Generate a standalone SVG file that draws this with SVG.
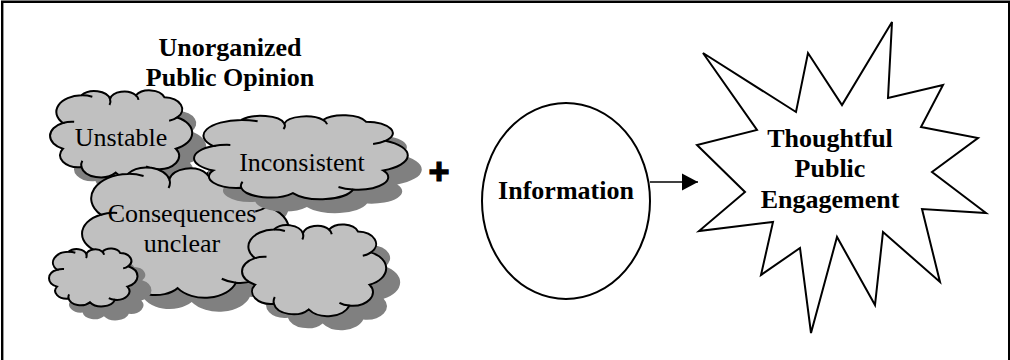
<svg xmlns="http://www.w3.org/2000/svg" xmlns:xlink="http://www.w3.org/1999/xlink" width="1010" height="360" viewBox="0 0 1010 360">
<style>
.cl{fill:#c0c0c0;stroke:#000;stroke-width:2}
.sh{fill:#808080;stroke:none}
.ci{fill:none;stroke:#000;stroke-width:2}
.t{font-family:"Liberation Serif","Times New Roman",serif;font-size:26px;fill:#000;text-anchor:middle}
.b{font-weight:bold}
</style>
<defs>
<path id="cloud" vector-effect="non-scaling-stroke" d="M9,38 A18,18 0 0 1 22,8 A11.2,11.2 0 0 1 42,12 A10.1,10.1 0 0 1 60,8 A11.1,11.1 0 0 1 80,10 A13.1,13.1 0 0 1 89,32 A18.7,18.7 0 0 1 88,66 A14.3,14.3 0 0 1 74,88 A15.6,15.6 0 0 1 46,92 A13.6,13.6 0 0 1 22,86 A13.1,13.1 0 0 1 9,66 A15.4,15.4 0 0 1 9,38 Z"/>
<path id="cloudin" vector-effect="non-scaling-stroke" d="M9,38 A15.4,15.4 0 0 1 16.9,36.7 M22,8 A18,18 0 0 1 29.6,9.5 M42,12 A11.2,11.2 0 0 1 41.6,18.4 M60,8 A10.1,10.1 0 0 1 61.9,12.9 M89,32 A13.1,13.1 0 0 1 83.3,35.6 M74,88 A14.3,14.3 0 0 1 67.2,85.1 M22,86 A13.6,13.6 0 0 1 22.6,79"/>
<marker id="arr" markerUnits="userSpaceOnUse" markerWidth="18" markerHeight="18" refX="16" refY="9" orient="auto" viewBox="0 0 18 18">
<path d="M0,0.5 L16,9 L0,17.5 Z" fill="#000"/>
</marker>
</defs>
<rect width="1010" height="360" fill="#fff"/>
<path d="M2.2,362 V1.8 H1009.2 V362" fill="none" stroke="#000" stroke-width="2.4"/>
<g id="title">
<text class="t b" x="230" y="56">Unorganized</text>
<text class="t b" x="230" y="86">Public Opinion</text>
</g>
<g id="cloud-unstable">
<use xlink:href="#cloud" class="sh" transform="translate(64,102) scale(1.43,0.92)"/>
<use xlink:href="#cloud" class="cl" transform="translate(50,88) scale(1.43,0.92)"/>
<use xlink:href="#cloudin" class="ci" transform="translate(50,88) scale(1.43,0.92)"/>
<text class="t" x="121" y="146">Unstable</text>
</g>
<g id="cloud-consequences">
<use xlink:href="#cloud" class="sh" transform="translate(96,177) scale(2.08,1.36)"/>
<use xlink:href="#cloud" class="cl" transform="translate(82,163) scale(2.08,1.36)"/>
<use xlink:href="#cloudin" class="ci" transform="translate(82,163) scale(2.08,1.36)"/>
<text class="t" x="182" y="222">Consequences</text>
<text class="t" x="182" y="252">unclear</text>
</g>
<g id="cloud-inconsistent">
<use xlink:href="#cloud" class="sh" transform="translate(208,127) scale(2.15,0.87)"/>
<use xlink:href="#cloud" class="cl" transform="translate(194,113) scale(2.15,0.87)"/>
<use xlink:href="#cloudin" class="ci" transform="translate(194,113) scale(2.15,0.87)"/>
<text class="t" x="302" y="171">Inconsistent</text>
</g>
<g id="cloud-small">
<use xlink:href="#cloud" class="sh" transform="translate(63,261) scale(0.89,0.60)"/>
<use xlink:href="#cloud" class="cl" transform="translate(49,247) scale(0.89,0.60)"/>
<use xlink:href="#cloudin" class="ci" transform="translate(49,247) scale(0.89,0.60)"/>
</g>
<g id="cloud-bottomright">
<use xlink:href="#cloud" class="sh" transform="translate(256,236) scale(1.45,0.95)"/>
<use xlink:href="#cloud" class="cl" transform="translate(242,222) scale(1.45,0.95)"/>
<use xlink:href="#cloudin" class="ci" transform="translate(242,222) scale(1.45,0.95)"/>
</g>
<g id="plus">
<text x="439" y="184" font-family="'Liberation Sans',Arial,sans-serif" font-weight="bold" font-size="36" text-anchor="middle" stroke="#000" stroke-width="1.2">+</text>
</g>
<g id="information">
<ellipse cx="566" cy="201" rx="84" ry="98" fill="#fff" stroke="#000" stroke-width="2"/>
<text class="t b" x="566" y="199">Information</text>
</g>
<g id="engagement">
<polygon points="703,53 796,112 808,53 842,105 892,22 888,98 943,85 921,127 978,138 932,172 986,213 922,209 940,282 883,232 875,305 837,237 811,333 800,248 761,275 773,222 699,231 745,192 697,145 757,130" fill="#fff" stroke="#000" stroke-width="2" stroke-linejoin="miter"/>
<text class="t b" x="830" y="147">Thoughtful</text>
<text class="t b" x="830" y="177">Public</text>
<text class="t b" x="830" y="208">Engagement</text>
</g>
<g id="connectors">
<line x1="650" y1="182" x2="698" y2="182" stroke="#000" stroke-width="1.5" marker-end="url(#arr)"/>
</g>
</svg>
